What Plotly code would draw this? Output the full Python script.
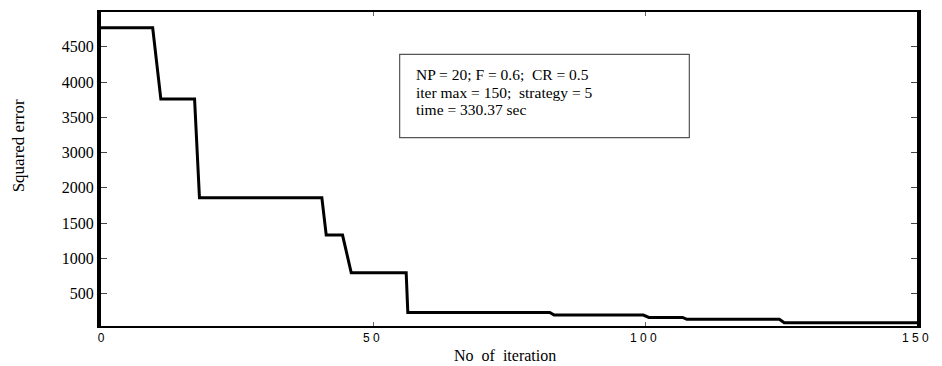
import numpy as np
import plotly.graph_objects as go

# ---- data ----
iterations = [0, 9.5, 11, 17.2, 18.1, 40.6, 41.4, 44.4, 46, 56.1, 56.4,
              82.5, 83.3, 99.7, 100.7, 106.9, 107.7, 124.7, 125.6, 150]
squared_error = [4770, 4770, 3760, 3760, 1860, 1860, 1330, 1330, 795, 795, 233,
                 233, 195, 195, 162, 162, 134, 134, 86, 86]

# tick labels as printed on the reference y axis (evenly spaced; note 2500 is absent)
y_tick_labels = [500, 1000, 1500, 2000, 3000, 3500, 4000, 4500]
x_tick_vals = [0, 50, 100, 150]
x_tick_text = ["0", "5\u00a00\u00a0", "1\u00a00\u00a00\u00a0", "1\u00a05\u00a00\u00a0"]

info_lines = ["NP = 20; F = 0.6;  CR = 0.5",
              "iter max = 150;  strategy = 5",
              "time = 330.37 sec"]

# axis scale: printed labels sit at evenly spaced axis positions
label_axis_pos = [500 * (i + 1) for i in range(len(y_tick_labels))]
scale_in = [0] + y_tick_labels + [5000]
scale_out = [0] + label_axis_pos + [4500]
y_axis = np.interp(squared_error, scale_in, scale_out)

SERIF = "Liberation Serif, Times New Roman, serif"
SANS = "Liberation Sans, Arial, sans-serif"

fig = go.Figure()
fig.add_trace(go.Scatter(x=iterations, y=y_axis, mode="lines",
                         line=dict(color="black", width=3), showlegend=False,
                         hoverinfo="skip"))

fig.update_layout(
    width=942, height=366,
    margin=dict(l=101, r=21, t=10, b=40),
    paper_bgcolor="white", plot_bgcolor="white",
    xaxis=dict(range=[0, 150], tickvals=x_tick_vals, ticktext=x_tick_text,
               ticks="inside", ticklen=4, tickwidth=1, tickcolor="#666",
               showline=True, linecolor="black", linewidth=2, mirror="ticks",
               showgrid=False, zeroline=False,
               tickfont=dict(family=SANS, size=12, color="black")),
    yaxis=dict(range=[40, 4495], tickvals=label_axis_pos,
               ticktext=[str(v) for v in y_tick_labels],
               ticks="inside", ticklen=6, tickwidth=1, tickcolor="#444",
               showline=True, linecolor="black", linewidth=4, mirror="ticks",
               showgrid=False, zeroline=False,
               tickfont=dict(family=SERIF, size=16, color="black")),
)

# info box
fig.add_shape(type="rect", xref="paper", yref="paper",
              x0=0.366, x1=0.721, y0=0.600, y1=0.865,
              line=dict(color="#555", width=1.2), fillcolor="white")
line_y = [0.800, 0.745, 0.690]
for txt, yy in zip(info_lines, line_y):
    fig.add_annotation(xref="paper", yref="paper", x=0.383, y=yy,
                       xanchor="left", yanchor="middle", align="left",
                       showarrow=False, text=txt,
                       font=dict(family=SERIF, size=15.5, color="black"))

# axis titles
fig.add_annotation(xref="paper", yref="paper", x=-0.101, y=0.574,
                   xanchor="center", yanchor="middle",
                   textangle=-90, showarrow=False, text="Squared error",
                   font=dict(family=SERIF, size=17, color="black"))
fig.add_annotation(xref="paper", yref="paper", x=0.495, y=-0.095,
                   xanchor="center", yanchor="middle", showarrow=False,
                   text="No&nbsp; of&nbsp; iteration",
                   font=dict(family=SERIF, size=16, color="black"))

fig.write_html("out.html")
